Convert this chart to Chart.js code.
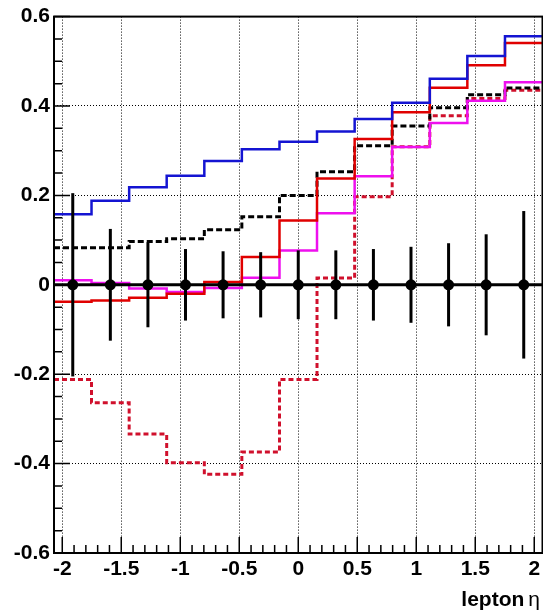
<!DOCTYPE html>
<html><head><meta charset="utf-8">
<script src="https://cdn.jsdelivr.net/npm/chart.js@4.4.1/dist/chart.umd.min.js"></script>
<style>
html,body{margin:0;padding:0;background:#fff;overflow:hidden}
#wrap{width:543px;height:616px;overflow:hidden;position:relative;background:#fff}
canvas{display:block}
</style></head>
<body><div id="wrap"><canvas id="c" width="548" height="616"></canvas></div>
<script>
// ---- data ----
const binEdges = [-2.07,-1.752,-1.433,-1.115,-0.796,-0.478,-0.159,0.159,0.478,0.796,1.115,1.433,1.752,2.07];
const blueSolid    = [0.158,0.188,0.218,0.244,0.277,0.303,0.320,0.343,0.371,0.407,0.461,0.512,0.556];
const redSolid     = [-0.038,-0.035,-0.029,-0.020,0.006,0.062,0.144,0.238,0.326,0.386,0.441,0.491,0.541];
const magentaSolid = [0.010,0.004,-0.008,-0.016,-0.007,0.016,0.077,0.160,0.243,0.308,0.362,0.412,0.453];
const blackDashed  = [0.083,0.083,0.097,0.103,0.123,0.152,0.200,0.253,0.311,0.355,0.396,0.425,0.440];
const redDashed    = [-0.212,-0.264,-0.334,-0.398,-0.424,-0.374,-0.212,0.015,0.197,0.309,0.378,0.417,0.435];
const dataValues   = [0,0,0,0,0,0,0,0,0,0,0,0,0];
const dataErrors   = [0.205,0.125,0.095,0.080,0.075,0.073,0.077,0.077,0.080,0.085,0.093,0.113,0.165];
const xTickValues = [-2,-1.5,-1,-0.5,0,0.5,1,1.5,2];
const xTickLabels = ['-2','-1.5','-1','-0.5','0','0.5','1','1.5','2'];
const yTickValues = [-0.6,-0.4,-0.2,0,0.2,0.4,0.6];
const yTickLabels = ['-0.6','-0.4','-0.2','0','0.2','0.4','0.6'];
const xTitle = 'lepton';
const xTitleSymbol = 'η';
const xMin = -2.07, xMax = 2.07, yMin = -0.6, yMax = 0.6;

// ---- helpers ----
const binCenters = dataValues.map((_, i) => (binEdges[i] + binEdges[i+1]) / 2);
function stepPoints(vals) {
  const pts = vals.map((v, i) => ({x: binEdges[i], y: v}));
  pts.push({x: binEdges[vals.length], y: vals[vals.length - 1]});
  return pts;
}
function hist(vals, color, dash, width) {
  return {type: 'line', data: stepPoints(vals), borderColor: color, borderWidth: width || 2.5,
    borderDash: dash || [], stepped: true, pointRadius: 0, fill: false, tension: 0};
}
const FONT = 'Liberation Sans, Arial, Helvetica, sans-serif';

const decor = {
  id: 'decor',
  beforeDatasetDraw(chart, args) {
    if (args.index !== 0) return;
    const {ctx, chartArea: a, scales: {x, y}} = chart;
    ctx.save();
    ctx.strokeStyle = '#000';
    ctx.lineWidth = 3;
    const y0 = y.getPixelForValue(0);
    ctx.beginPath(); ctx.moveTo(a.left, y0); ctx.lineTo(a.right, y0); ctx.stroke();
    dataErrors.forEach((e, i) => {
      const cx = x.getPixelForValue(binCenters[i]);
      ctx.beginPath();
      ctx.moveTo(cx, y.getPixelForValue(dataValues[i] - e));
      ctx.lineTo(cx, y.getPixelForValue(dataValues[i] + e));
      ctx.stroke();
    });
    ctx.restore();
  },
  afterDraw(chart) {
    const {ctx, chartArea: a, scales: {x, y}} = chart;
    ctx.save();
    ctx.strokeStyle = '#000';
    ctx.lineWidth = 1.5;
    ctx.beginPath();
    for (let k = -20; k <= 20; k++) {
      const px = x.getPixelForValue(k / 10);
      const len = (k % 5 === 0) ? 16 : 8;
      ctx.moveTo(px, a.bottom); ctx.lineTo(px, a.bottom - len);
    }
    for (let k = -12; k <= 12; k++) {
      const py = y.getPixelForValue(k / 20);
      const len = (k % 4 === 0) ? 16 : 8;
      ctx.moveTo(a.left, py); ctx.lineTo(a.left + len, py);
    }
    ctx.stroke();
    ctx.lineWidth = 2;
    ctx.strokeRect(a.left, a.top, a.right - a.left, a.bottom - a.top);
    ctx.fillStyle = '#000';
    ctx.textBaseline = 'alphabetic';
    ctx.textAlign = 'right';
    ctx.font = '21px ' + FONT;
    const right = 540, base = 606;
    ctx.fillText(xTitleSymbol, right, base);
    const w = ctx.measureText(xTitleSymbol).width;
    ctx.font = 'bold 21px ' + FONT;
    ctx.fillText(xTitle, right - w - 4, base);
    ctx.restore();
  }
};

new Chart(document.getElementById('c'), {
  type: 'line',
  data: {
    datasets: [
      {type: 'line', data: binCenters.map((c, i) => ({x: c, y: dataValues[i]})), showLine: false,
        pointRadius: 5.5, pointBackgroundColor: '#000', pointBorderColor: '#000', pointBorderWidth: 0},
      hist(blueSolid, '#1414d2'),
      hist(redSolid, '#e00000'),
      hist(magentaSolid, '#ee10ee'),
      hist(blackDashed, '#000000', [6, 3], 3),
      hist(redDashed, '#d0102c', [5, 3], 3)
    ]
  },
  options: {
    responsive: false, animation: false, devicePixelRatio: 1, events: [],
    layout: {padding: {top: 14, right: 3, left: 0, bottom: 0}},
    plugins: {legend: {display: false}, tooltip: {enabled: false}},
    scales: {
      x: {
        type: 'linear', min: xMin, max: xMax,
        afterBuildTicks: s => { s.ticks = xTickValues.map(v => ({value: v})); },
        afterFit: s => { s.height = 63; },
        ticks: {callback: (v, i) => xTickLabels[i], color: '#000', padding: 4, maxRotation: 0, autoSkip: false,
          font: {family: FONT, weight: 'bold', size: 21}},
        grid: {color: '#000', lineWidth: 1, drawTicks: false},
        border: {display: false, dash: [1, 2]}
      },
      y: {
        type: 'linear', min: yMin, max: yMax,
        afterBuildTicks: s => { s.ticks = yTickValues.map(v => ({value: v})); },
        afterFit: s => { s.width = 54; },
        ticks: {callback: (v, i) => yTickLabels[i], color: '#000', padding: 4, autoSkip: false,
          font: {family: FONT, weight: 'bold', size: 21}},
        grid: {color: '#000', lineWidth: 1, drawTicks: false},
        border: {display: false, dash: [1, 2]}
      }
    }
  },
  plugins: [decor]
});
</script>
</body></html>
